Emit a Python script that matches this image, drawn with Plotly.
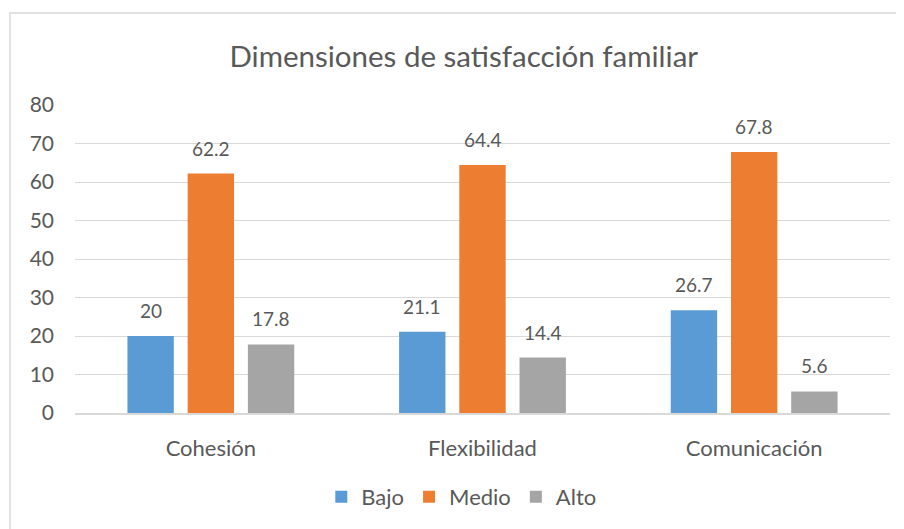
import plotly.graph_objects as go

categories = ["Cohesión", "Flexibilidad", "Comunicación"]
series_names = ["Bajo", "Medio", "Alto"]
bajo = [20, 21.1, 26.7]
medio = [62.2, 64.4, 67.8]
alto = [17.8, 14.4, 5.6]
colors = ["#5B9BD5", "#ED7D31", "#A5A5A5"]
y_ticks = [0, 10, 20, 30, 40, 50, 60, 70, 80]

FONT = "Lato, Calibri, Carlito, sans-serif"
TXT = "#595959"

W, H = 904, 529
L, R, T, B = 67, 22, 97, 124
plot_w = W - L - R
plot_h = H - T - B

bargap = 0.335
bargroupgap = 0.23
cat_w = plot_w / len(categories)
slot = cat_w * (1 - bargap) / len(series_names)

fig = go.Figure()
annotations = []
for i, (name, vals, col) in enumerate(zip(series_names, [bajo, medio, alto], colors)):
    fig.add_trace(go.Bar(name=name, x=categories, y=vals, marker_color=col,
                         marker_line_width=0))
    for c, v in zip(categories, vals):
        annotations.append(dict(x=c, y=v, xref="x", yref="y", text=f"{v:g}",
                                showarrow=False, yanchor="bottom",
                                xshift=(i - 1) * slot, yshift=12,
                                font=dict(family=FONT, size=19, color=TXT)))

x0 = (2 - L) / plot_w
y1 = 1 + (T - 5) / plot_h
shapes = [dict(type="rect", xref="paper", yref="paper", x0=x0, x1=1.2,
               y0=-1.0, y1=y1, line=dict(color="#D9D9D9", width=1.5),
               fillcolor="rgba(0,0,0,0)", layer="below")]

fig.update_layout(
    width=W, height=H,
    margin=dict(l=L, r=R, t=T, b=B),
    paper_bgcolor="white", plot_bgcolor="white",
    barmode="group", bargap=bargap, bargroupgap=bargroupgap,
    title=dict(text="Dimensiones de satisfacción familiar", x=0.477, xanchor="center",
               xref="paper", y=1 - 49 / H, yanchor="middle",
               font=dict(family=FONT, size=29.5, color=TXT)),
    font=dict(family=FONT, size=20, color=TXT),
    legend=dict(orientation="h", x=0.474, xanchor="center", y=(T + plot_h - 489) / plot_h,
                yanchor="middle", font=dict(family=FONT, size=22, color=TXT),
                itemwidth=30, traceorder="normal"),
    annotations=annotations,
    shapes=shapes,
    showlegend=True,
)
fig.update_yaxes(range=[0, 80], tickvals=y_ticks, showgrid=True, gridcolor="#D9D9D9",
                 gridwidth=1, zeroline=False, showline=False,
                 tickfont=dict(family=FONT, size=21, color=TXT), ticklabelstandoff=20)
fig.update_xaxes(showline=True, linecolor="#D9D9D9", linewidth=1.5, ticks="",
                 tickfont=dict(family=FONT, size=22, color=TXT), ticklabelstandoff=15)

fig.write_html("out.html")
